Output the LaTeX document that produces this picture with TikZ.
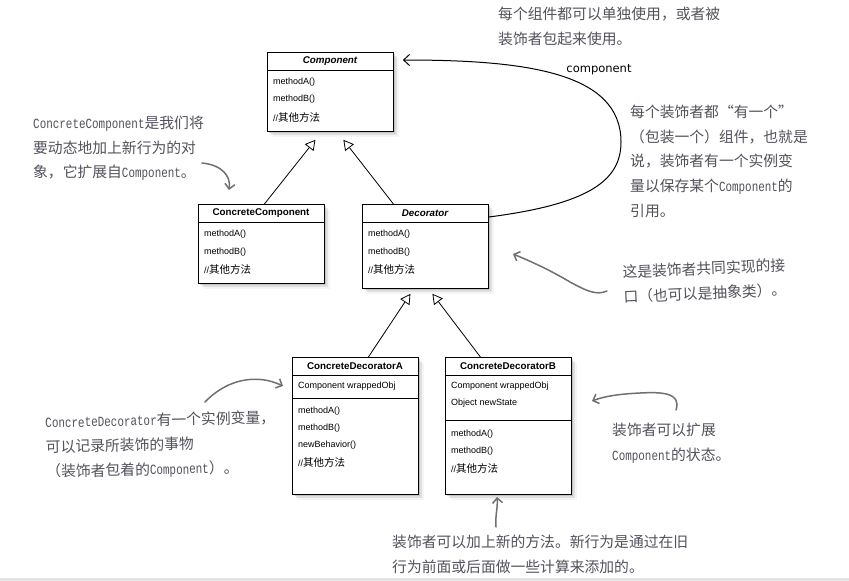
\documentclass[tikz,border=0pt]{standalone}
\usepackage{fontspec}
\setmainfont{Liberation Sans}
\newfontfamily\cjk{Noto Sans CJK SC}
\newfontfamily\annmono[FakeStretch=0.78]{Liberation Mono}
\newfontfamily\lblfont{DejaVu Sans}
\usetikzlibrary{arrows.meta,shadows,calc}
\definecolor{anncol}{RGB}{82,82,92}
\definecolor{arrcol}{RGB}{112,112,112}
\newcommand\annlat[1]{{\fontsize{14}{25}\annmono #1}}
\newcommand\boxzh[1]{{\fontsize{10.5}{12}\cjk #1}}
\begin{document}
\begin{tikzpicture}[x=1pt,y=-1pt,
  umlbox/.style={draw=black, line width=0.8pt, fill=white, anchor=north west, inner sep=0pt,
    drop shadow={shadow xshift=2pt,shadow yshift=-2pt,opacity=.30},
    drop shadow={shadow xshift=4pt,shadow yshift=-4pt,opacity=.18},
    drop shadow={shadow xshift=6pt,shadow yshift=-6pt,opacity=.08}},
  sepline/.style={line width=0.8pt},
  title/.style={font=\fontsize{9.8}{11}\selectfont\bfseries, inner sep=0pt},
  item/.style={font=\fontsize{9}{10}\selectfont, anchor=west, inner sep=0pt},
  inh/.style={line width=0.8pt, -{Triangle[fill=white, length=10pt, width=11pt]}},
  assoc/.style={line width=1pt, -{Straight Barb[length=6pt, width=11pt]}},
  note/.style={font=\fontsize{14.8}{24.6}\cjk, text=anncol, align=left, anchor=north west, inner sep=0pt},
  notearrow/.style={draw=arrcol, line width=1.5pt, line cap=round, -{Straight Barb[length=5pt, width=10pt]}},
]
\useasboundingbox (0,0) rectangle (849,581);
\fill[white] (0,0) rectangle (849,581);
\fill[black!10] (0,578) rectangle (849,581);

% ---------- Component ----------
\node[umlbox, minimum width=126pt, minimum height=79pt] (comp) at (267,52) {};
\draw[sepline] (comp.west |- 0,70) -- (comp.east |- 0,70);
\node[title] (compT) at (330,61) {\itshape Component};
\node[item] (compA) at (273,82) {methodA()};
\node[item] (compB) at (273,99) {methodB()};
\node[item] (compO) at (273,117) {//\boxzh{其他方法}};

% ---------- ConcreteComponent ----------
\node[umlbox, minimum width=126pt, minimum height=79pt] (cc) at (198,204) {};
\draw[sepline] (cc.west |- 0,222) -- (cc.east |- 0,222);
\node[title] (ccT) at (261,213) {ConcreteComponent};
\node[item] (ccA) at (204,234) {methodA()};
\node[item] (ccB) at (204,252) {methodB()};
\node[item] (ccO) at (204,269) {//\boxzh{其他方法}};

% ---------- Decorator ----------
\node[umlbox, minimum width=126pt, minimum height=84pt] (dec) at (362,204) {};
\draw[sepline] (dec.west |- 0,222) -- (dec.east |- 0,222);
\node[title] (decT) at (425,213) {\itshape Decorator};
\node[item] (decA) at (368,234) {methodA()};
\node[item] (decB) at (368,252) {methodB()};
\node[item] (decO) at (368,269) {//\boxzh{其他方法}};

% ---------- ConcreteDecoratorA ----------
\node[umlbox, minimum width=126pt, minimum height=137pt] (cda) at (292,357) {};
\draw[sepline] (cda.west |- 0,375) -- (cda.east |- 0,375);
\draw[sepline] (cda.west |- 0,398) -- (cda.east |- 0,398);
\node[title] (cdaT) at (355,366) {ConcreteDecoratorA};
\node[item] (cdaW) at (298,386) {Component wrappedObj};
\node[item] (cdaA) at (298,411) {methodA()};
\node[item] (cdaB) at (298,428) {methodB()};
\node[item] (cdaN) at (298,445) {newBehavior()};
\node[item] (cdaO) at (298,462) {//\boxzh{其他方法}};

% ---------- ConcreteDecoratorB ----------
\node[umlbox, minimum width=126pt, minimum height=137pt] (cdb) at (445,357) {};
\draw[sepline] (cdb.west |- 0,375) -- (cdb.east |- 0,375);
\draw[sepline] (cdb.west |- 0,420) -- (cdb.east |- 0,420);
\node[title] (cdbT) at (508,366) {ConcreteDecoratorB};
\node[item] (cdbW) at (451,386) {Component wrappedObj};
\node[item] (cdbS) at (451,403) {Object newState};
\node[item] (cdbA) at (451,434) {methodA()};
\node[item] (cdbB) at (451,451) {methodB()};
\node[item] (cdbO) at (451,468) {//\boxzh{其他方法}};

% ---------- inheritance ----------
\draw[inh] ([xshift=3pt]cc.north) -- ([xshift=-15pt,yshift=-8pt]comp.south);
\draw[inh] ([xshift=-32pt]dec.north) -- ([xshift=13pt,yshift=-8pt]comp.south);
\draw[inh] ([xshift=13pt]cda.north) -- ([xshift=-15pt,yshift=-5pt]dec.south);
\draw[inh] ([xshift=-28pt]cdb.north) -- ([xshift=7pt,yshift=-5pt]dec.south);

% ---------- association ----------
\draw[assoc] ([yshift=-13pt]dec.north east) .. controls (590,204) and (621,180) .. (621,142)
   .. controls (621,72) and (525,60) .. ([xshift=9pt,yshift=-8pt]comp.north east);
\node[font=\fontsize{11.5}{13}\lblfont, inner sep=0pt] (lbl) at (599,70) {component};

% ---------- notes ----------
\node[note] (n1) at (498,7) {每个组件都可以单独使用，或者被\\装饰者包起来使用。};
\node[note] (n2) at (630,105) {每个装饰者都“有一个”\\（包装一个）组件，也就是\\说，装饰者有一个实例变\\量以保存某个\annlat{Component}的\\引用。};
\node[note] (n3) at (33,116) {\annlat{ConcreteComponent}是我们将\\要动态地加上新行为的对\\象，它扩展自\annlat{Component}。};
\node[note, rotate=2.5] (n4) at (622,265) {这是装饰者共同实现的接\\口（也可以是抽象类）。};
\node[note, rotate=1.2] (n5) at (45,415) {\annlat{ConcreteDecorator}有一个实例变量，\\可以记录所装饰的事物\\（装饰者包着的\annlat{Component}）。};
\node[note] (n6) at (612,423) {装饰者可以扩展\\\annlat{Component}的状态。};
\node[note] (n7) at (392,535) {装饰者可以加上新的方法。新行为是通过在旧\\行为前面或后面做一些计算来添加的。};

% ---------- note arrows ----------
\coordinate (a1s) at (202,163); \coordinate (a1e) at (229,190);
\draw[notearrow] (a1s) .. controls (222,165) and (231,176) .. (a1e);
\coordinate (a2s) at (205,402); \coordinate (a2e) at (283,386);
\draw[notearrow] (a2s) .. controls (228,378) and (258,374) .. (a2e);
\coordinate (a3s) at (607,291); \coordinate (a3m) at (570,282); \coordinate (a3e) at (513,254);
\draw[notearrow] (a3s) .. controls (596,296) and (585,290) .. (a3m) .. controls (550,270) and (530,261) .. (a3e);
\coordinate (a4s) at (676,410); \coordinate (a4m) at (640,393); \coordinate (a4e) at (592,401);
\draw[notearrow] (a4s) .. controls (682,392) and (660,392) .. (a4m) .. controls (620,394) and (605,396) .. (a4e);
\coordinate (a5s) at (496,527); \coordinate (a5e) at (497,497);
\draw[notearrow] (a5s) .. controls (495,515) and (498,508) .. (a5e);
\end{tikzpicture}
\end{document}
